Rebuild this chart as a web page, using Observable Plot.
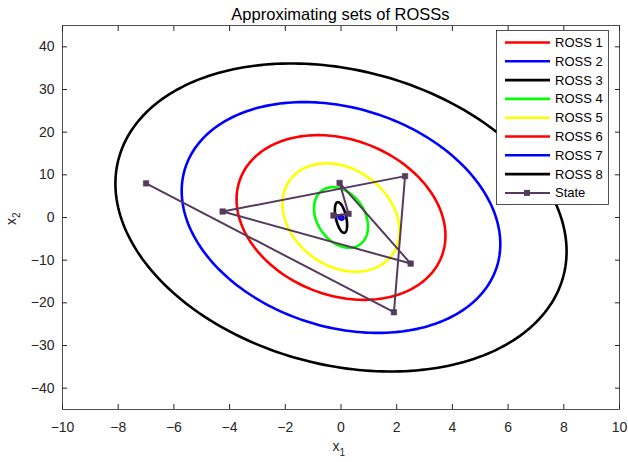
<!DOCTYPE html>
<html>
<head>
<meta charset="utf-8">
<script src="https://cdn.jsdelivr.net/npm/d3@7"></script>
<script src="https://cdn.jsdelivr.net/npm/@observablehq/plot@0.6"></script>
<style>
  html, body { margin: 0; padding: 0; background: #fff; }
  svg { font-family: "Liberation Sans", Arial, sans-serif; }
</style>
</head>
<body>
<div id="chart"></div>
<script>
// ---- data ----
const titleText = "Approximating sets of ROSSs";
const rossNames = ["ROSS 1", "ROSS 2", "ROSS 3", "ROSS 4", "ROSS 5", "ROSS 6", "ROSS 7", "ROSS 8"];
const rossColors = ["#ff0000", "#0000ff", "#000000", "#00ff00", "#ffff00", "#ff0000", "#0000ff", "#000000"];
// ellipse half extents along x1 and x2, and coupling (cosine of phase shift)
const rossHalfX1 = [0.03, 0.09, 0.22, 0.97, 2.1, 3.75, 5.72, 8.1];
const rossHalfX2 = [0.15, 0.5, 3.6, 7.1, 12.7, 19.3, 27.05, 36.1];
const rossCoupling = [-0.3, -0.3, -0.5, -0.3, -0.25, -0.22, -0.23, -0.22];

const stateName = "State";
const stateColor = "#553a5c";
const stateX1 = [-7.0, 1.9, 2.3, -4.25, 2.5, -0.05, 0.27, -0.27];
const stateX2 = [8.0, -22.2, 9.7, 1.4, -10.8, 8.1, 0.86, 0.47];

const xTicks = [-10, -8, -6, -4, -2, 0, 2, 4, 6, 8, 10];
const yTicks = [-40, -30, -20, -10, 0, 10, 20, 30, 40];

(function () {
// ---- build ellipse outlines (parametric curve of each set) ----
const nSeg = 240;
const rossPts = [];
rossNames.forEach((name, i) => {
  const d = Math.acos(rossCoupling[i]);
  for (let k = 0; k <= nSeg; k++) {
    const t = (2 * Math.PI * k) / nSeg;
    rossPts.push({ name, x1: rossHalfX1[i] * Math.cos(t), x2: rossHalfX2[i] * Math.cos(t - d) });
  }
});
const statePts = stateX1.map((v, i) => ({ x1: v, x2: stateX2[i] }));

const axisColor = "#262626";

const marks = [
  Plot.frame({ stroke: axisColor, strokeWidth: 0.8 }),
  ...rossNames.map((name, i) =>
    Plot.line(rossPts.filter(d => d.name === name), { x: "x1", y: "x2", stroke: rossColors[i], strokeWidth: 2.6 })
  ),
  Plot.line(statePts, { x: "x1", y: "x2", stroke: stateColor, strokeWidth: 2 }),
  Plot.dot(statePts, { x: "x1", y: "x2", symbol: "square", r: 3.1, fill: stateColor, stroke: stateColor, strokeWidth: 0.6 }),
  Plot.axisX(xTicks, { anchor: "bottom", tickSize: -5, tickPadding: 17.5, fontSize: 14, color: axisColor, label: null }),
  Plot.axisX(xTicks, { anchor: "top", tickSize: -5, tickFormat: () => null, color: axisColor, label: null }),
  Plot.axisY(yTicks, { anchor: "left", tickSize: -5, tickPadding: 13, fontSize: 14, color: axisColor, label: null }),
  Plot.axisY(yTicks, { anchor: "right", tickSize: -5, tickFormat: () => null, color: axisColor, label: null })
];

const plot = Plot.plot({
  width: 628,
  height: 462,
  marginLeft: 62,
  marginRight: 9,
  marginTop: 25,
  marginBottom: 53,
  x: { domain: [-10, 10] },
  y: { domain: [-45, 45] },
  style: { fontFamily: "'Liberation Sans', Arial, sans-serif", fontSize: "14px", color: axisColor, background: "#fff" },
  marks
});
document.getElementById("chart").appendChild(plot);

// ---- title, axis labels, legend added to the same SVG ----
const svg = d3.select(plot);
const xs = plot.scale("x"), ys = plot.scale("y");
const pLeft = xs.range[0], pRight = xs.range[1];
const pTop = ys.range[1], pBottom = ys.range[0];
const cx = (pLeft + pRight) / 2, cy = (pTop + pBottom) / 2;

svg.append("text")
  .attr("x", cx).attr("y", 19.5)
  .attr("text-anchor", "middle")
  .attr("font-size", 16.5).attr("fill", "#000")
  .text(titleText);

const xl = svg.append("text")
  .attr("x", cx - 8).attr("y", 451)
  .attr("text-anchor", "start").attr("font-size", 14).attr("fill", axisColor);
xl.append("tspan").text("x");
xl.append("tspan").attr("dy", 4.5).attr("font-size", 10).text("1");

const yl = svg.append("text")
  .attr("transform", `translate(15.5,${cy + 8}) rotate(-90)`)
  .attr("text-anchor", "start").attr("font-size", 14).attr("fill", axisColor);
yl.append("tspan").text("x");
yl.append("tspan").attr("dy", 4.5).attr("font-size", 10).text("2");

// legend
const lgX = 496.5, lgY = 30, lgW = 112, rowH = 18.8;
const entries = rossNames.map((n, i) => ({ name: n, color: rossColors[i], marker: false }))
  .concat([{ name: stateName, color: stateColor, marker: true }]);
const lgH = 174;
const lg = svg.append("g");
lg.append("rect")
  .attr("x", lgX).attr("y", lgY + 0.5)
  .attr("width", lgW).attr("height", lgH)
  .attr("fill", "#fff").attr("stroke", axisColor).attr("stroke-width", 0.8);
entries.forEach((e, i) => {
  const yy = lgY + 12.5 + i * rowH;
  lg.append("line")
    .attr("x1", lgX + 8.5).attr("x2", lgX + 53.5)
    .attr("y1", yy).attr("y2", yy)
    .attr("stroke", e.color).attr("stroke-width", e.marker ? 2 : 2.6);
  if (e.marker) {
    lg.append("rect")
      .attr("x", lgX + 30.5 - 3).attr("y", yy - 3)
      .attr("width", 6).attr("height", 6)
      .attr("fill", e.color);
  }
  lg.append("text")
    .attr("x", lgX + 58.5).attr("y", yy)
    .attr("dy", "0.35em")
    .attr("text-anchor", "start")
    .attr("font-size", 13).attr("fill", "#000")
    .text(e.name);
});
})();
</script>
</body>
</html>
